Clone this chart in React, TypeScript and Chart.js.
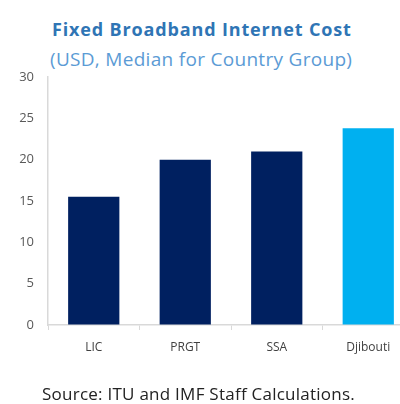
import React, { useEffect, useRef } from "react";
import { Chart, registerables } from "chart.js";

Chart.register(...registerables);

const categories = ["LIC", "PRGT", "SSA", "Djibouti"];
const values = [15.5, 20.0, 21.0, 23.8];
const barColors = ["#002060", "#002060", "#002060", "#00B0F0"];
const yTicks = [0, 5, 10, 15, 20, 25, 30];
const titleText = "Fixed Broadband Internet Cost";
const subtitleText = "(USD, Median for Country Group)";
const sourceText = "Source: ITU and IMF Staff Calculations.";

const FONT = "'Open Sans', 'Liberation Sans', sans-serif";

export default function App() {
  const ref = useRef<HTMLCanvasElement | null>(null);

  useEffect(() => {
    document.body.style.margin = "0";
    document.body.style.overflow = "hidden";
    const canvas = ref.current;
    if (!canvas) return;
    const chart = new Chart(canvas, {
      type: "bar",
      data: {
        labels: categories,
        datasets: [
          {
            data: values,
            backgroundColor: barColors,
            borderWidth: 0,
            barPercentage: 0.56,
            categoryPercentage: 1,
          },
        ],
      },
      options: {
        responsive: false,
        animation: false,
        maintainAspectRatio: false,
        layout: { padding: { top: 77, left: 0, right: 0, bottom: 38 } },
        plugins: {
          legend: { display: false },
          tooltip: { enabled: false },
          title: { display: false },
        },
        scales: {
          x: {
            offset: true,
            grid: {
              offset: true,
              drawOnChartArea: false,
              drawTicks: true,
              tickLength: 5,
              color: "#d9d9d9",
            },
            border: { color: "#d9d9d9", width: 1.5 },
            ticks: {
              color: "#404040",
              font: { family: FONT, size: 12 },
              padding: 10,
            },
            afterFit: (s: any) => {
              s.height = 41;
            },
          },
          y: {
            min: 0,
            max: 30,
            afterBuildTicks: (s: any) => {
              s.ticks = yTicks.map((v) => ({ value: v }));
            },
            grid: { drawOnChartArea: false, drawTicks: false },
            border: { color: "#d9d9d9", width: 1.5 },
            ticks: {
              color: "#595959",
              font: { family: FONT, size: 13 },
              padding: 14,
            },
            afterFit: (s: any) => {
              s.width = 48;
            },
          },
        },
      },
    });
    return () => chart.destroy();
  }, []);

  return (
    <div
      style={{
        position: "relative",
        width: 400,
        height: 404,
        overflow: "hidden",
        background: "#fff",
      }}
    >
      <div
        style={{
          position: "absolute",
          left: 52,
          top: 17,
          fontFamily: FONT,
          fontWeight: 700,
          fontSize: 18,
          letterSpacing: "0.85px",
          color: "#2F75B5",
          whiteSpace: "nowrap",
          lineHeight: "24px",
        }}
      >
        {titleText}
      </div>
      <div
        style={{
          position: "absolute",
          left: 50,
          top: 47,
          fontFamily: FONT,
          fontSize: 19,
          letterSpacing: "0.3px",
          color: "#5B9BD5",
          whiteSpace: "nowrap",
          lineHeight: "24px",
        }}
      >
        {subtitleText}
      </div>
      <canvas
        ref={ref}
        width={414}
        height={404}
        style={{ position: "absolute", left: 0, top: 0, width: 414, height: 404 }}
      />
      <div
        style={{
          position: "absolute",
          left: 42,
          top: 384,
          fontFamily: FONT,
          fontSize: 17,
          letterSpacing: "0.25px",
          color: "#222",
          whiteSpace: "nowrap",
          lineHeight: "20px",
        }}
      >
        {sourceText}
      </div>
    </div>
  );
}
